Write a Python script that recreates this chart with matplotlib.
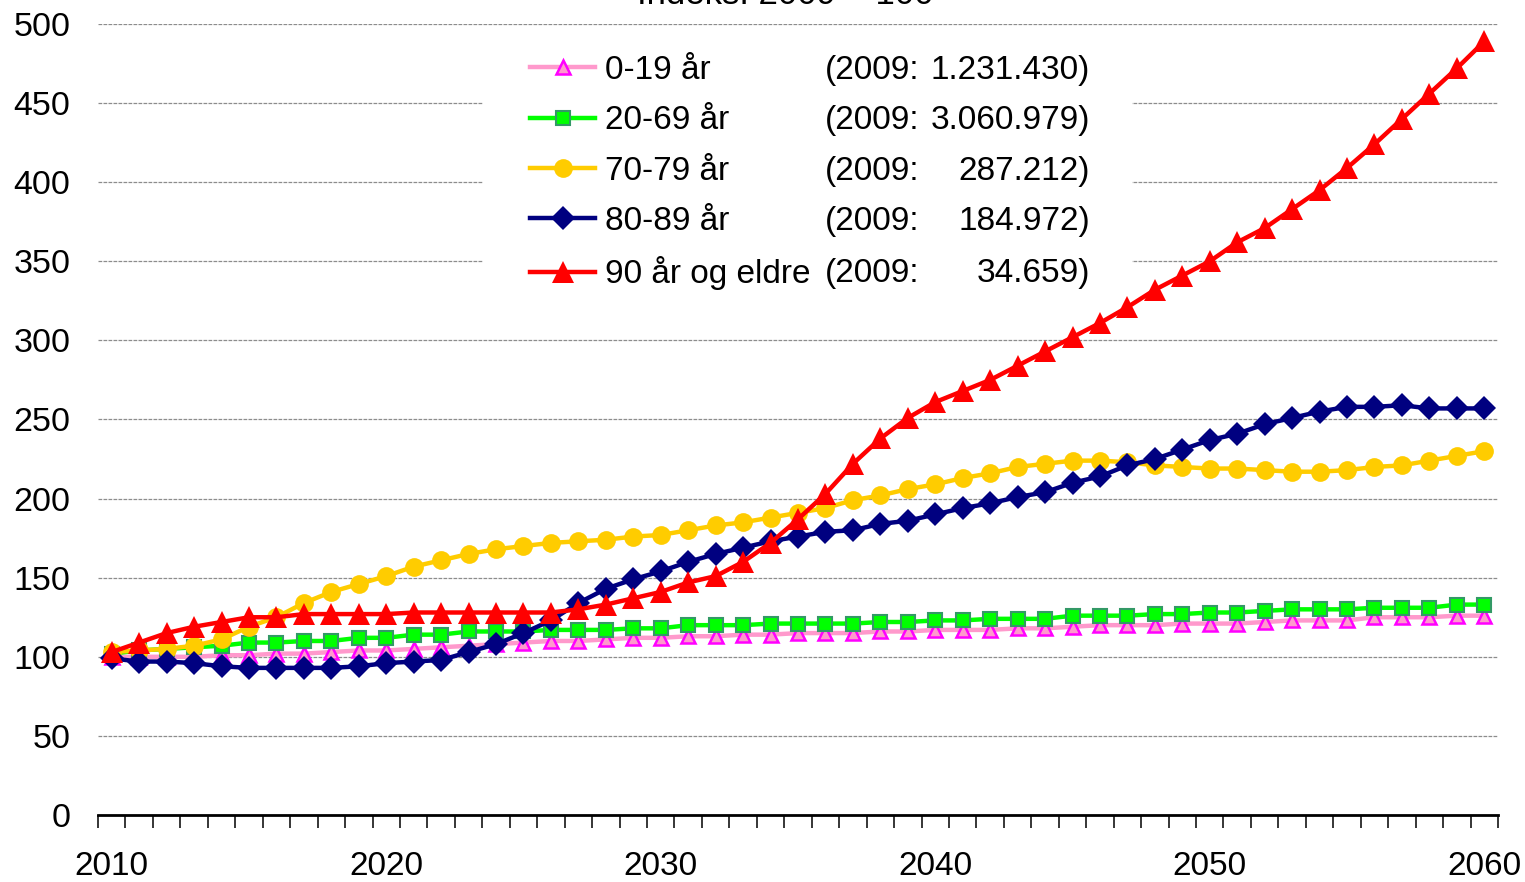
import matplotlib
matplotlib.use('Agg')
import matplotlib.pyplot as plt
from matplotlib.patches import Rectangle
import numpy as np

plt.rcParams['font.family'] = ['Liberation Sans', 'DejaVu Sans']

# ---------------- data ----------------
years = list(range(2010, 2061))

age_0_19 = [100, 100, 100, 100, 101, 101, 102, 102, 103, 104,
            104, 105, 106, 107, 108, 109, 110, 110, 111, 112,
            112, 113, 113, 114, 114, 115, 115, 115, 116, 116,
            117, 117, 117, 118, 118, 119, 120, 120, 120, 121,
            121, 121, 122, 123, 123, 123, 125, 125, 125, 126,
            126]

age_20_69 = [102, 104, 105, 106, 107, 109, 109, 110, 110, 112,
             112, 114, 114, 116, 116, 116, 117, 117, 117, 118,
             118, 120, 120, 120, 121, 121, 121, 121, 122, 122,
             123, 123, 124, 124, 124, 126, 126, 126, 127, 127,
             128, 128, 129, 130, 130, 130, 131, 131, 131, 133,
             133]

age_70_79 = [103, 104, 105, 107, 111, 119, 125, 134, 141, 146,
             151, 157, 161, 165, 168, 170, 172, 173, 174, 176,
             177, 180, 183, 185, 188, 191, 194, 199, 202, 206,
             209, 213, 216, 220, 222, 224, 224, 223, 221, 220,
             219, 219, 218, 217, 217, 218, 220, 221, 224, 227,
             230]

age_80_89 = [99, 97, 97, 96, 94, 93, 93, 93, 93, 94,
             96, 97, 98, 103, 108, 115, 123, 134, 143, 149,
             154, 160, 165, 169, 173, 176, 179, 180, 184, 186,
             190, 194, 197, 201, 204, 210, 214, 221, 225, 231,
             237, 241, 247, 251, 255, 258, 258, 259, 257, 257,
             257]

age_90_plus = [103, 109, 115, 119, 122, 125, 125, 127, 127, 127,
               127, 128, 128, 128, 128, 128, 128, 130, 133, 137,
               141, 147, 151, 160, 172, 187, 203, 222, 238, 251,
               261, 268, 275, 284, 293, 302, 311, 321, 332, 341,
               350, 362, 371, 383, 395, 409, 424, 440, 456, 472,
               489]

series_labels = ['0-19 år', '20-69 år', '70-79 år', '80-89 år', '90 år og eldre']
base_prefix = '(2009:'
base_values = ['1.231.430)', '3.060.979)', '287.212)', '184.972)', '34.659)']
x_tick_years = [2010, 2020, 2030, 2040, 2050, 2060]
y_ticks = list(range(0, 501, 50))
title = 'Indeks: 2009 = 100'

# ---------------- figure ----------------
W, H = 1525, 882
fig = plt.figure(figsize=(W / 100, H / 100), dpi=100)
ax = fig.add_axes([98 / W, (H - 815) / H, 1400 / W, 791 / H])

x = np.arange(len(years))
styles = [
    dict(color='#FF99CC', lw=3.2, marker='^', ms=10, mfc='#FF99CC', mec='#FF00FF', mew=1.8),
    dict(color='#00FF00', lw=3.2, marker='s', ms=9.5, mfc='#00FF00', mec='#339966', mew=1.5),
    dict(color='#FFCC00', lw=3.2, marker='o', ms=13.5, mfc='#FFCC00', mec='#FFCC00', mew=0),
    dict(color='#000080', lw=3.2, marker='D', ms=12, mfc='#000080', mec='#000080', mew=0),
    dict(color='#FF0000', lw=3.2, marker='^', ms=15.5, mfc='#FF0000', mec='#FF0000', mew=0),
]
all_series = [age_0_19, age_20_69, age_70_79, age_80_89, age_90_plus]
handles = []
for vals, lab, st in zip(all_series, series_labels, styles):
    h, = ax.plot(x, vals, label=lab, zorder=3, clip_on=False, **st)
    handles.append(h)

ax.set_xlim(-0.5, len(years) - 0.5)
ax.set_ylim(0, 500)
ax.set_yticks(y_ticks)
ax.set_yticklabels([str(v) for v in y_ticks])
ax.tick_params(axis='y', length=0, pad=20, labelsize=24.5)

ax.set_xticks([years.index(y) for y in x_tick_years])
ax.set_xticklabels([str(y) for y in x_tick_years])
ax.set_xticks(np.arange(-0.5, len(years)), minor=True)
ax.tick_params(axis='x', which='major', length=0, pad=26, labelsize=24)
ax.tick_params(axis='x', which='minor', length=9, width=1.1, direction='out', color='black')

for s in ['left', 'right', 'top']:
    ax.spines[s].set_visible(False)
ax.spines['bottom'].set_linewidth(2)
ax.spines['bottom'].set_zorder(4)

ax.grid(axis='y', color='#8c8c8c', lw=0.9, linestyle=(0, (3, 1)))
ax.set_axisbelow(True)

# white legend background covering gridlines
ax.add_patch(Rectangle((483 / W, 1 - 298 / H), (1132 - 483) / W, (298 - 35) / H,
                       transform=fig.transFigure, facecolor='white', edgecolor='none',
                       zorder=1, clip_on=False))

leg = ax.legend(handles=handles, labels=series_labels, loc='upper left',
                bbox_to_anchor=(530 / W, 1 - 55 / H), bbox_transform=fig.transFigure,
                frameon=False, fontsize=24, handlelength=1.95, handletextpad=0.3,
                labelspacing=0.58, borderpad=0, borderaxespad=0, numpoints=1)
leg.set_zorder(5)

fig.canvas.draw()
for t, val in zip(leg.get_texts(), base_values):
    bb = t.get_window_extent()
    yc = (bb.y0 + bb.y1) / 2 / H
    fig.text(825 / W, yc, base_prefix, ha='left', va='center', fontsize=24, zorder=6)
    fig.text(1090 / W, yc, val, ha='right', va='center', fontsize=24, zorder=6)

fig.text(785 / W, 1 - 3.5 / H, title, ha='center', va='baseline', fontsize=25)

fig.savefig('out.png', dpi=100)
